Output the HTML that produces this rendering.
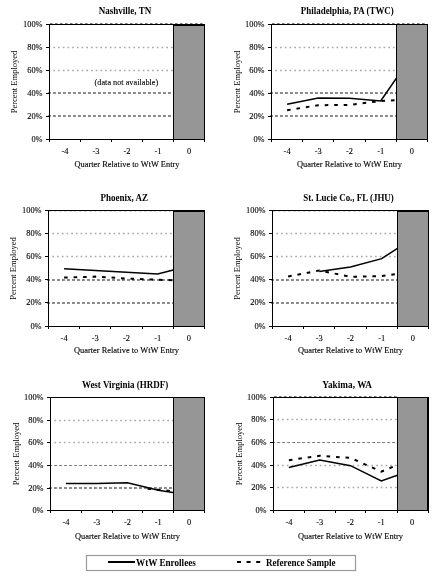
<!DOCTYPE html>
<html><head><meta charset="utf-8"><style>
html,body{margin:0;padding:0;background:#fff;}
svg{display:block;will-change:transform;}
text{font-family:"Liberation Serif", serif;fill:#000;stroke:#000;stroke-width:0;}
</style></head><body>
<svg width="436" height="578" viewBox="0 0 436 578">
<rect x="0" y="0" width="436" height="578" fill="#fff"/>
<line x1="53.4" y1="47.5" x2="173" y2="47.5" stroke="#aaaaaa" stroke-width="1.5" stroke-dasharray="1.7 3.0"/>
<line x1="53.4" y1="70.5" x2="173" y2="70.5" stroke="#aaaaaa" stroke-width="1.5" stroke-dasharray="1.7 3.0"/>
<line x1="48" y1="93.0" x2="173" y2="93.0" stroke="#8a8a8a" stroke-width="1.8" stroke-dasharray="2.9 2.1"/>
<line x1="48" y1="116.0" x2="173" y2="116.0" stroke="#8a8a8a" stroke-width="1.8" stroke-dasharray="2.9 2.1"/>
<line x1="50" y1="23.5" x2="204" y2="23.5" stroke="#7a7a7a" stroke-width="1" stroke-dasharray="2.6 2.4"/>
<rect x="173" y="24" width="32" height="116" fill="#969696"/>
<rect x="173" y="24" width="1" height="116" fill="#000"/>
<rect x="204" y="24" width="1" height="116" fill="#000"/>
<rect x="173" y="24" width="32" height="2" fill="#000"/>
<rect x="46" y="24" width="159" height="1" fill="#000"/>
<rect x="49" y="24" width="1" height="118" fill="#000"/>
<rect x="46" y="139" width="159" height="1" fill="#000"/>
<rect x="46" y="24" width="3" height="1" fill="#000"/>
<text x="42.6" y="27.1" text-anchor="end" font-size="8.8" textLength="19.55" lengthAdjust="spacingAndGlyphs" style="stroke-width:0.1px">100%</text>
<rect x="46" y="47" width="3" height="1" fill="#000"/>
<text x="42.6" y="50.1" text-anchor="end" font-size="8.8" textLength="15.36" lengthAdjust="spacingAndGlyphs" style="stroke-width:0.1px">80%</text>
<rect x="46" y="70" width="3" height="1" fill="#000"/>
<text x="42.6" y="73.1" text-anchor="end" font-size="8.8" textLength="15.36" lengthAdjust="spacingAndGlyphs" style="stroke-width:0.1px">60%</text>
<rect x="46" y="93" width="3" height="1" fill="#000"/>
<text x="42.6" y="96.1" text-anchor="end" font-size="8.8" textLength="15.36" lengthAdjust="spacingAndGlyphs" style="stroke-width:0.1px">40%</text>
<rect x="46" y="116" width="3" height="1" fill="#000"/>
<text x="42.6" y="119.1" text-anchor="end" font-size="8.8" textLength="15.36" lengthAdjust="spacingAndGlyphs" style="stroke-width:0.1px">20%</text>
<rect x="46" y="139" width="3" height="1" fill="#000"/>
<text x="42.6" y="142.1" text-anchor="end" font-size="8.8" textLength="11.17" lengthAdjust="spacingAndGlyphs" style="stroke-width:0.1px">0%</text>
<rect x="49" y="139" width="1" height="3" fill="#000"/>
<rect x="80" y="139" width="1" height="3" fill="#000"/>
<rect x="111" y="139" width="1" height="3" fill="#000"/>
<rect x="142" y="139" width="1" height="3" fill="#000"/>
<rect x="173" y="139" width="1" height="3" fill="#000"/>
<rect x="204" y="139" width="1" height="3" fill="#000"/>
<text x="65.0" y="154.2" text-anchor="middle" font-size="8.8" textLength="6.98" lengthAdjust="spacingAndGlyphs" style="stroke-width:0.1px">-4</text>
<text x="96.0" y="154.2" text-anchor="middle" font-size="8.8" textLength="6.98" lengthAdjust="spacingAndGlyphs" style="stroke-width:0.1px">-3</text>
<text x="127.0" y="154.2" text-anchor="middle" font-size="8.8" textLength="6.98" lengthAdjust="spacingAndGlyphs" style="stroke-width:0.1px">-2</text>
<text x="158.0" y="154.2" text-anchor="middle" font-size="8.8" textLength="6.98" lengthAdjust="spacingAndGlyphs" style="stroke-width:0.1px">-1</text>
<text x="189.0" y="154.2" text-anchor="middle" font-size="8.8" textLength="4.19" lengthAdjust="spacingAndGlyphs" style="stroke-width:0.1px">0</text>
<text x="127.0" y="166.8" text-anchor="middle" font-size="8.3" textLength="105" lengthAdjust="spacingAndGlyphs" style="stroke-width:0.12px">Quarter Relative to WtW Entry</text>
<text transform="translate(17.1,82.0) rotate(-90)" text-anchor="middle" font-size="8.3" textLength="62.5" lengthAdjust="spacingAndGlyphs" style="stroke-width:0.0px">Percent Employed</text>
<text x="125.0" y="13.6" text-anchor="middle" font-size="9.6" font-weight="bold" textLength="52.4" lengthAdjust="spacingAndGlyphs" style="stroke-width:0.0px">Nashville, TN</text>
<text x="126.4" y="84.9" text-anchor="middle" font-size="8.7" textLength="63.6" lengthAdjust="spacingAndGlyphs" style="stroke-width:0.1px">(data not available)</text>
<line x1="275.4" y1="47.5" x2="396" y2="47.5" stroke="#aaaaaa" stroke-width="1.5" stroke-dasharray="1.7 3.0"/>
<line x1="275.4" y1="70.5" x2="396" y2="70.5" stroke="#aaaaaa" stroke-width="1.5" stroke-dasharray="1.7 3.0"/>
<line x1="270" y1="93.0" x2="396" y2="93.0" stroke="#8a8a8a" stroke-width="1.8" stroke-dasharray="2.9 2.1"/>
<line x1="270" y1="116.0" x2="396" y2="116.0" stroke="#8a8a8a" stroke-width="1.8" stroke-dasharray="2.9 2.1"/>
<line x1="272" y1="23.5" x2="427" y2="23.5" stroke="#7a7a7a" stroke-width="1" stroke-dasharray="2.6 2.4"/>
<polyline points="287.10,110.20 318.30,105.20 349.50,104.90 380.70,101.00 411.90,99.50" fill="none" stroke="#000" stroke-width="2" stroke-dasharray="3.6 5.9"/>
<polyline points="287.10,104.30 318.30,98.10 349.50,98.30 380.70,101.00 411.90,55.80" fill="none" stroke="#000" stroke-width="1.5"/>
<rect x="396" y="24" width="32" height="116" fill="#969696"/>
<rect x="396" y="24" width="1" height="116" fill="#000"/>
<rect x="427" y="24" width="1" height="116" fill="#000"/>
<rect x="268" y="24" width="160" height="1" fill="#000"/>
<rect x="271" y="24" width="1" height="118" fill="#000"/>
<rect x="268" y="139" width="160" height="1" fill="#000"/>
<rect x="268" y="24" width="3" height="1" fill="#000"/>
<text x="264.6" y="27.1" text-anchor="end" font-size="8.8" textLength="19.55" lengthAdjust="spacingAndGlyphs" style="stroke-width:0.1px">100%</text>
<rect x="268" y="47" width="3" height="1" fill="#000"/>
<text x="264.6" y="50.1" text-anchor="end" font-size="8.8" textLength="15.36" lengthAdjust="spacingAndGlyphs" style="stroke-width:0.1px">80%</text>
<rect x="268" y="70" width="3" height="1" fill="#000"/>
<text x="264.6" y="73.1" text-anchor="end" font-size="8.8" textLength="15.36" lengthAdjust="spacingAndGlyphs" style="stroke-width:0.1px">60%</text>
<rect x="268" y="93" width="3" height="1" fill="#000"/>
<text x="264.6" y="96.1" text-anchor="end" font-size="8.8" textLength="15.36" lengthAdjust="spacingAndGlyphs" style="stroke-width:0.1px">40%</text>
<rect x="268" y="116" width="3" height="1" fill="#000"/>
<text x="264.6" y="119.1" text-anchor="end" font-size="8.8" textLength="15.36" lengthAdjust="spacingAndGlyphs" style="stroke-width:0.1px">20%</text>
<rect x="268" y="139" width="3" height="1" fill="#000"/>
<text x="264.6" y="142.1" text-anchor="end" font-size="8.8" textLength="11.17" lengthAdjust="spacingAndGlyphs" style="stroke-width:0.1px">0%</text>
<rect x="271" y="139" width="1" height="3" fill="#000"/>
<rect x="302" y="139" width="1" height="3" fill="#000"/>
<rect x="333" y="139" width="1" height="3" fill="#000"/>
<rect x="365" y="139" width="1" height="3" fill="#000"/>
<rect x="396" y="139" width="1" height="3" fill="#000"/>
<rect x="427" y="139" width="1" height="3" fill="#000"/>
<text x="287.1" y="154.2" text-anchor="middle" font-size="8.8" textLength="6.98" lengthAdjust="spacingAndGlyphs" style="stroke-width:0.1px">-4</text>
<text x="318.3" y="154.2" text-anchor="middle" font-size="8.8" textLength="6.98" lengthAdjust="spacingAndGlyphs" style="stroke-width:0.1px">-3</text>
<text x="349.5" y="154.2" text-anchor="middle" font-size="8.8" textLength="6.98" lengthAdjust="spacingAndGlyphs" style="stroke-width:0.1px">-2</text>
<text x="380.7" y="154.2" text-anchor="middle" font-size="8.8" textLength="6.98" lengthAdjust="spacingAndGlyphs" style="stroke-width:0.1px">-1</text>
<text x="411.9" y="154.2" text-anchor="middle" font-size="8.8" textLength="4.19" lengthAdjust="spacingAndGlyphs" style="stroke-width:0.1px">0</text>
<text x="349.5" y="166.6" text-anchor="middle" font-size="8.3" textLength="105" lengthAdjust="spacingAndGlyphs" style="stroke-width:0.12px">Quarter Relative to WtW Entry</text>
<text transform="translate(239.6,82.0) rotate(-90)" text-anchor="middle" font-size="8.3" textLength="62.5" lengthAdjust="spacingAndGlyphs" style="stroke-width:0.0px">Percent Employed</text>
<text x="347.3" y="13.5" text-anchor="middle" font-size="9.6" font-weight="bold" textLength="93.0" lengthAdjust="spacingAndGlyphs" style="stroke-width:0.0px">Philadelphia, PA (TWC)</text>
<line x1="52.4" y1="233.5" x2="173" y2="233.5" stroke="#aaaaaa" stroke-width="1.5" stroke-dasharray="1.7 3.0"/>
<line x1="52.4" y1="256.5" x2="173" y2="256.5" stroke="#aaaaaa" stroke-width="1.5" stroke-dasharray="1.7 3.0"/>
<line x1="47" y1="280.0" x2="173" y2="280.0" stroke="#8a8a8a" stroke-width="1.8" stroke-dasharray="2.9 2.1"/>
<line x1="47" y1="303.0" x2="173" y2="303.0" stroke="#8a8a8a" stroke-width="1.8" stroke-dasharray="2.9 2.1"/>
<line x1="49" y1="211.5" x2="173" y2="211.5" stroke="#d8d8d8" stroke-width="1" stroke-dasharray="2.6 2.4"/>
<polyline points="64.10,277.60 95.30,276.60 126.50,278.50 157.70,279.80 188.90,280.60" fill="none" stroke="#000" stroke-width="2" stroke-dasharray="3.6 5.9"/>
<polyline points="64.10,268.70 95.30,270.50 126.50,272.30 157.70,274.00 188.90,265.90" fill="none" stroke="#000" stroke-width="1.5"/>
<rect x="173" y="210" width="32" height="117" fill="#969696"/>
<rect x="173" y="210" width="1" height="117" fill="#000"/>
<rect x="204" y="210" width="1" height="117" fill="#000"/>
<rect x="173" y="210" width="32" height="2" fill="#000"/>
<rect x="45" y="210" width="160" height="1" fill="#000"/>
<rect x="48" y="210" width="1" height="119" fill="#000"/>
<rect x="45" y="326" width="160" height="1" fill="#000"/>
<rect x="45" y="210" width="3" height="1" fill="#000"/>
<text x="41.6" y="213.1" text-anchor="end" font-size="8.8" textLength="19.55" lengthAdjust="spacingAndGlyphs" style="stroke-width:0.1px">100%</text>
<rect x="45" y="233" width="3" height="1" fill="#000"/>
<text x="41.6" y="236.1" text-anchor="end" font-size="8.8" textLength="15.36" lengthAdjust="spacingAndGlyphs" style="stroke-width:0.1px">80%</text>
<rect x="45" y="256" width="3" height="1" fill="#000"/>
<text x="41.6" y="259.1" text-anchor="end" font-size="8.8" textLength="15.36" lengthAdjust="spacingAndGlyphs" style="stroke-width:0.1px">60%</text>
<rect x="45" y="279" width="3" height="1" fill="#000"/>
<text x="41.6" y="282.1" text-anchor="end" font-size="8.8" textLength="15.36" lengthAdjust="spacingAndGlyphs" style="stroke-width:0.1px">40%</text>
<rect x="45" y="302" width="3" height="1" fill="#000"/>
<text x="41.6" y="305.1" text-anchor="end" font-size="8.8" textLength="15.36" lengthAdjust="spacingAndGlyphs" style="stroke-width:0.1px">20%</text>
<rect x="45" y="326" width="3" height="1" fill="#000"/>
<text x="41.6" y="329.1" text-anchor="end" font-size="8.8" textLength="11.17" lengthAdjust="spacingAndGlyphs" style="stroke-width:0.1px">0%</text>
<rect x="48" y="326" width="1" height="3" fill="#000"/>
<rect x="79" y="326" width="1" height="3" fill="#000"/>
<rect x="110" y="326" width="1" height="3" fill="#000"/>
<rect x="142" y="326" width="1" height="3" fill="#000"/>
<rect x="173" y="326" width="1" height="3" fill="#000"/>
<rect x="204" y="326" width="1" height="3" fill="#000"/>
<text x="64.1" y="341.2" text-anchor="middle" font-size="8.8" textLength="6.98" lengthAdjust="spacingAndGlyphs" style="stroke-width:0.1px">-4</text>
<text x="95.3" y="341.2" text-anchor="middle" font-size="8.8" textLength="6.98" lengthAdjust="spacingAndGlyphs" style="stroke-width:0.1px">-3</text>
<text x="126.5" y="341.2" text-anchor="middle" font-size="8.8" textLength="6.98" lengthAdjust="spacingAndGlyphs" style="stroke-width:0.1px">-2</text>
<text x="157.7" y="341.2" text-anchor="middle" font-size="8.8" textLength="6.98" lengthAdjust="spacingAndGlyphs" style="stroke-width:0.1px">-1</text>
<text x="188.9" y="341.2" text-anchor="middle" font-size="8.8" textLength="4.19" lengthAdjust="spacingAndGlyphs" style="stroke-width:0.1px">0</text>
<text x="126.5" y="353.3" text-anchor="middle" font-size="8.3" textLength="105" lengthAdjust="spacingAndGlyphs" style="stroke-width:0.12px">Quarter Relative to WtW Entry</text>
<text transform="translate(16.3,268.5) rotate(-90)" text-anchor="middle" font-size="8.3" textLength="62.5" lengthAdjust="spacingAndGlyphs" style="stroke-width:0.0px">Percent Employed</text>
<text x="124.2" y="201.0" text-anchor="middle" font-size="9.6" font-weight="bold" textLength="47.6" lengthAdjust="spacingAndGlyphs" style="stroke-width:0.0px">Phoenix, AZ</text>
<line x1="276.4" y1="233.5" x2="397" y2="233.5" stroke="#aaaaaa" stroke-width="1.5" stroke-dasharray="1.7 3.0"/>
<line x1="276.4" y1="256.5" x2="397" y2="256.5" stroke="#aaaaaa" stroke-width="1.5" stroke-dasharray="1.7 3.0"/>
<line x1="271" y1="280.0" x2="397" y2="280.0" stroke="#8a8a8a" stroke-width="1.8" stroke-dasharray="2.9 2.1"/>
<line x1="271" y1="303.0" x2="397" y2="303.0" stroke="#8a8a8a" stroke-width="1.8" stroke-dasharray="2.9 2.1"/>
<line x1="273" y1="211.5" x2="397" y2="211.5" stroke="#d8d8d8" stroke-width="1" stroke-dasharray="2.6 2.4"/>
<polyline points="288.10,276.50 319.30,270.50 350.50,276.80 381.70,276.00 412.90,272.00" fill="none" stroke="#000" stroke-width="2" stroke-dasharray="3.6 5.9"/>
<polyline points="319.30,271.60 350.50,266.90 381.70,258.60 412.90,238.30" fill="none" stroke="#000" stroke-width="1.5"/>
<rect x="397" y="210" width="32" height="117" fill="#969696"/>
<rect x="397" y="210" width="1" height="117" fill="#000"/>
<rect x="428" y="210" width="1" height="117" fill="#000"/>
<rect x="397" y="210" width="32" height="2" fill="#000"/>
<rect x="269" y="210" width="160" height="1" fill="#000"/>
<rect x="272" y="210" width="1" height="119" fill="#000"/>
<rect x="269" y="326" width="160" height="1" fill="#000"/>
<rect x="269" y="210" width="3" height="1" fill="#000"/>
<text x="265.6" y="213.1" text-anchor="end" font-size="8.8" textLength="19.55" lengthAdjust="spacingAndGlyphs" style="stroke-width:0.1px">100%</text>
<rect x="269" y="233" width="3" height="1" fill="#000"/>
<text x="265.6" y="236.1" text-anchor="end" font-size="8.8" textLength="15.36" lengthAdjust="spacingAndGlyphs" style="stroke-width:0.1px">80%</text>
<rect x="269" y="256" width="3" height="1" fill="#000"/>
<text x="265.6" y="259.1" text-anchor="end" font-size="8.8" textLength="15.36" lengthAdjust="spacingAndGlyphs" style="stroke-width:0.1px">60%</text>
<rect x="269" y="279" width="3" height="1" fill="#000"/>
<text x="265.6" y="282.1" text-anchor="end" font-size="8.8" textLength="15.36" lengthAdjust="spacingAndGlyphs" style="stroke-width:0.1px">40%</text>
<rect x="269" y="302" width="3" height="1" fill="#000"/>
<text x="265.6" y="305.1" text-anchor="end" font-size="8.8" textLength="15.36" lengthAdjust="spacingAndGlyphs" style="stroke-width:0.1px">20%</text>
<rect x="269" y="326" width="3" height="1" fill="#000"/>
<text x="265.6" y="329.1" text-anchor="end" font-size="8.8" textLength="11.17" lengthAdjust="spacingAndGlyphs" style="stroke-width:0.1px">0%</text>
<rect x="272" y="326" width="1" height="3" fill="#000"/>
<rect x="303" y="326" width="1" height="3" fill="#000"/>
<rect x="334" y="326" width="1" height="3" fill="#000"/>
<rect x="366" y="326" width="1" height="3" fill="#000"/>
<rect x="397" y="326" width="1" height="3" fill="#000"/>
<rect x="428" y="326" width="1" height="3" fill="#000"/>
<text x="288.1" y="341.2" text-anchor="middle" font-size="8.8" textLength="6.98" lengthAdjust="spacingAndGlyphs" style="stroke-width:0.1px">-4</text>
<text x="319.3" y="341.2" text-anchor="middle" font-size="8.8" textLength="6.98" lengthAdjust="spacingAndGlyphs" style="stroke-width:0.1px">-3</text>
<text x="350.5" y="341.2" text-anchor="middle" font-size="8.8" textLength="6.98" lengthAdjust="spacingAndGlyphs" style="stroke-width:0.1px">-2</text>
<text x="381.7" y="341.2" text-anchor="middle" font-size="8.8" textLength="6.98" lengthAdjust="spacingAndGlyphs" style="stroke-width:0.1px">-1</text>
<text x="412.9" y="341.2" text-anchor="middle" font-size="8.8" textLength="4.19" lengthAdjust="spacingAndGlyphs" style="stroke-width:0.1px">0</text>
<text x="350.5" y="353.3" text-anchor="middle" font-size="8.3" textLength="105" lengthAdjust="spacingAndGlyphs" style="stroke-width:0.12px">Quarter Relative to WtW Entry</text>
<text transform="translate(240.4,268.5) rotate(-90)" text-anchor="middle" font-size="8.3" textLength="62.5" lengthAdjust="spacingAndGlyphs" style="stroke-width:0.0px">Percent Employed</text>
<text x="348.5" y="200.8" text-anchor="middle" font-size="9.6" font-weight="bold" textLength="90.5" lengthAdjust="spacingAndGlyphs" style="stroke-width:0.0px">St. Lucie Co., FL (JHU)</text>
<line x1="54.4" y1="420.5" x2="173" y2="420.5" stroke="#aaaaaa" stroke-width="1.5" stroke-dasharray="1.7 3.0"/>
<line x1="54.4" y1="442.5" x2="173" y2="442.5" stroke="#aaaaaa" stroke-width="1.5" stroke-dasharray="1.7 3.0"/>
<line x1="49.1" y1="465.5" x2="173" y2="465.5" stroke="#7c7c7c" stroke-width="1" stroke-dasharray="3 2"/>
<line x1="49" y1="488.0" x2="173" y2="488.0" stroke="#8a8a8a" stroke-width="1.8" stroke-dasharray="2.9 2.1"/>
<polyline points="147.5,488.8 158.30,489.7 189.10,492.6" fill="none" stroke="#000" stroke-width="1.8" stroke-dasharray="3.6 5.9"/>
<polyline points="65.90,483.40 96.70,483.60 127.50,482.70 158.30,490.30 189.10,494.90" fill="none" stroke="#000" stroke-width="1.5"/>
<rect x="173" y="397" width="32" height="114" fill="#969696"/>
<rect x="173" y="397" width="1" height="114" fill="#000"/>
<rect x="204" y="397" width="1" height="114" fill="#000"/>
<rect x="47" y="397" width="158" height="1" fill="#000"/>
<rect x="50" y="397" width="1" height="116" fill="#000"/>
<rect x="47" y="510" width="158" height="1" fill="#000"/>
<rect x="47" y="397" width="3" height="1" fill="#000"/>
<text x="43.6" y="400.1" text-anchor="end" font-size="8.8" textLength="19.55" lengthAdjust="spacingAndGlyphs" style="stroke-width:0.1px">100%</text>
<rect x="47" y="420" width="3" height="1" fill="#000"/>
<text x="43.6" y="423.1" text-anchor="end" font-size="8.8" textLength="15.36" lengthAdjust="spacingAndGlyphs" style="stroke-width:0.1px">80%</text>
<rect x="47" y="442" width="3" height="1" fill="#000"/>
<text x="43.6" y="445.1" text-anchor="end" font-size="8.8" textLength="15.36" lengthAdjust="spacingAndGlyphs" style="stroke-width:0.1px">60%</text>
<rect x="47" y="465" width="3" height="1" fill="#000"/>
<text x="43.6" y="468.1" text-anchor="end" font-size="8.8" textLength="15.36" lengthAdjust="spacingAndGlyphs" style="stroke-width:0.1px">40%</text>
<rect x="47" y="488" width="3" height="1" fill="#000"/>
<text x="43.6" y="491.1" text-anchor="end" font-size="8.8" textLength="15.36" lengthAdjust="spacingAndGlyphs" style="stroke-width:0.1px">20%</text>
<rect x="47" y="510" width="3" height="1" fill="#000"/>
<text x="43.6" y="513.1" text-anchor="end" font-size="8.8" textLength="11.17" lengthAdjust="spacingAndGlyphs" style="stroke-width:0.1px">0%</text>
<rect x="50" y="510" width="1" height="3" fill="#000"/>
<rect x="81" y="510" width="1" height="3" fill="#000"/>
<rect x="112" y="510" width="1" height="3" fill="#000"/>
<rect x="142" y="510" width="1" height="3" fill="#000"/>
<rect x="173" y="510" width="1" height="3" fill="#000"/>
<rect x="204" y="510" width="1" height="3" fill="#000"/>
<text x="65.9" y="525.2" text-anchor="middle" font-size="8.8" textLength="6.98" lengthAdjust="spacingAndGlyphs" style="stroke-width:0.1px">-4</text>
<text x="96.7" y="525.2" text-anchor="middle" font-size="8.8" textLength="6.98" lengthAdjust="spacingAndGlyphs" style="stroke-width:0.1px">-3</text>
<text x="127.5" y="525.2" text-anchor="middle" font-size="8.8" textLength="6.98" lengthAdjust="spacingAndGlyphs" style="stroke-width:0.1px">-2</text>
<text x="158.3" y="525.2" text-anchor="middle" font-size="8.8" textLength="6.98" lengthAdjust="spacingAndGlyphs" style="stroke-width:0.1px">-1</text>
<text x="189.1" y="525.2" text-anchor="middle" font-size="8.8" textLength="4.19" lengthAdjust="spacingAndGlyphs" style="stroke-width:0.1px">0</text>
<text x="127.5" y="538.6" text-anchor="middle" font-size="8.3" textLength="105" lengthAdjust="spacingAndGlyphs" style="stroke-width:0.12px">Quarter Relative to WtW Entry</text>
<text transform="translate(18.7,454.0) rotate(-90)" text-anchor="middle" font-size="8.3" textLength="62.5" lengthAdjust="spacingAndGlyphs" style="stroke-width:0.0px">Percent Employed</text>
<text x="125.1" y="388.0" text-anchor="middle" font-size="9.6" font-weight="bold" textLength="86.4" lengthAdjust="spacingAndGlyphs" style="stroke-width:0.0px">West Virginia (HRDF)</text>
<line x1="277.4" y1="419.5" x2="397" y2="419.5" stroke="#aaaaaa" stroke-width="1.5" stroke-dasharray="1.7 3.0"/>
<line x1="272.1" y1="442.5" x2="397" y2="442.5" stroke="#7c7c7c" stroke-width="1" stroke-dasharray="3 2"/>
<line x1="277.4" y1="465.5" x2="397" y2="465.5" stroke="#aaaaaa" stroke-width="1.5" stroke-dasharray="1.7 3.0"/>
<line x1="277.4" y1="487.5" x2="397" y2="487.5" stroke="#aaaaaa" stroke-width="1.5" stroke-dasharray="1.7 3.0"/>
<line x1="274" y1="396.5" x2="397" y2="396.5" stroke="#7a7a7a" stroke-width="1" stroke-dasharray="2.6 2.4"/>
<polyline points="288.90,460.20 319.70,455.80 350.50,457.90 381.30,471.60 412.10,458.90" fill="none" stroke="#000" stroke-width="2" stroke-dasharray="3.6 5.9"/>
<polyline points="288.90,467.50 319.70,459.90 350.50,465.70 381.30,481.00 412.10,470.00" fill="none" stroke="#000" stroke-width="1.5"/>
<rect x="397" y="397" width="31" height="114" fill="#969696"/>
<rect x="397" y="397" width="1" height="114" fill="#000"/>
<rect x="427" y="397" width="2" height="114" fill="#000"/>
<rect x="270" y="397" width="158" height="1" fill="#000"/>
<rect x="273" y="397" width="1" height="116" fill="#000"/>
<rect x="270" y="510" width="158" height="1" fill="#000"/>
<rect x="270" y="397" width="3" height="1" fill="#000"/>
<text x="266.6" y="400.1" text-anchor="end" font-size="8.8" textLength="19.55" lengthAdjust="spacingAndGlyphs" style="stroke-width:0.1px">100%</text>
<rect x="270" y="419" width="3" height="1" fill="#000"/>
<text x="266.6" y="422.1" text-anchor="end" font-size="8.8" textLength="15.36" lengthAdjust="spacingAndGlyphs" style="stroke-width:0.1px">80%</text>
<rect x="270" y="442" width="3" height="1" fill="#000"/>
<text x="266.6" y="445.1" text-anchor="end" font-size="8.8" textLength="15.36" lengthAdjust="spacingAndGlyphs" style="stroke-width:0.1px">60%</text>
<rect x="270" y="465" width="3" height="1" fill="#000"/>
<text x="266.6" y="468.1" text-anchor="end" font-size="8.8" textLength="15.36" lengthAdjust="spacingAndGlyphs" style="stroke-width:0.1px">40%</text>
<rect x="270" y="487" width="3" height="1" fill="#000"/>
<text x="266.6" y="490.1" text-anchor="end" font-size="8.8" textLength="15.36" lengthAdjust="spacingAndGlyphs" style="stroke-width:0.1px">20%</text>
<rect x="270" y="510" width="3" height="1" fill="#000"/>
<text x="266.6" y="513.1" text-anchor="end" font-size="8.8" textLength="11.17" lengthAdjust="spacingAndGlyphs" style="stroke-width:0.1px">0%</text>
<rect x="273" y="510" width="1" height="3" fill="#000"/>
<rect x="304" y="510" width="1" height="3" fill="#000"/>
<rect x="335" y="510" width="1" height="3" fill="#000"/>
<rect x="365" y="510" width="1" height="3" fill="#000"/>
<rect x="397" y="510" width="1" height="3" fill="#000"/>
<rect x="428" y="510" width="1" height="3" fill="#000"/>
<text x="288.9" y="525.2" text-anchor="middle" font-size="8.8" textLength="6.98" lengthAdjust="spacingAndGlyphs" style="stroke-width:0.1px">-4</text>
<text x="319.7" y="525.2" text-anchor="middle" font-size="8.8" textLength="6.98" lengthAdjust="spacingAndGlyphs" style="stroke-width:0.1px">-3</text>
<text x="350.5" y="525.2" text-anchor="middle" font-size="8.8" textLength="6.98" lengthAdjust="spacingAndGlyphs" style="stroke-width:0.1px">-2</text>
<text x="381.3" y="525.2" text-anchor="middle" font-size="8.8" textLength="6.98" lengthAdjust="spacingAndGlyphs" style="stroke-width:0.1px">-1</text>
<text x="412.1" y="525.2" text-anchor="middle" font-size="8.8" textLength="4.19" lengthAdjust="spacingAndGlyphs" style="stroke-width:0.1px">0</text>
<text x="350.5" y="538.6" text-anchor="middle" font-size="8.3" textLength="105" lengthAdjust="spacingAndGlyphs" style="stroke-width:0.12px">Quarter Relative to WtW Entry</text>
<text transform="translate(242.1,454.0) rotate(-90)" text-anchor="middle" font-size="8.3" textLength="62.5" lengthAdjust="spacingAndGlyphs" style="stroke-width:0.0px">Percent Employed</text>
<text x="347.2" y="388.0" text-anchor="middle" font-size="9.6" font-weight="bold" textLength="49.7" lengthAdjust="spacingAndGlyphs" style="stroke-width:0.0px">Yakima, WA</text>
<rect x="86.5" y="555.5" width="269" height="15" fill="none" stroke="#9a9a9a" stroke-width="1.2"/>
<rect x="108" y="561" width="27" height="2" fill="#000"/>
<text x="136" y="565.8" font-size="9.6" font-weight="bold" textLength="59.8" lengthAdjust="spacingAndGlyphs">WtW Enrollees</text>
<line x1="237" y1="562" x2="262" y2="562" stroke="#000" stroke-width="2" stroke-dasharray="4 5.6"/>
<text x="266" y="565.9" font-size="9.6" font-weight="bold" textLength="69.6" lengthAdjust="spacingAndGlyphs">Reference Sample</text>
</svg>
</body></html>
